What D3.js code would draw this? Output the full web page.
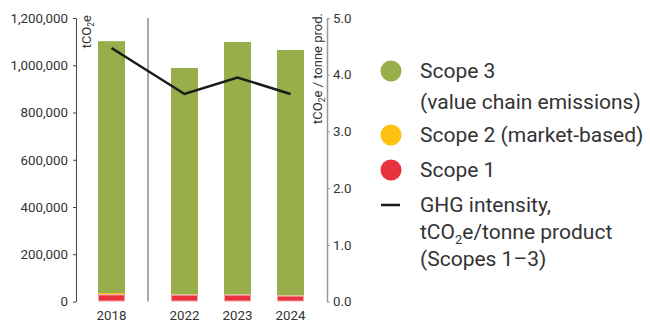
<!DOCTYPE html>
<html>
<head>
<meta charset="utf-8">
<script src="https://cdn.jsdelivr.net/npm/d3@7"></script>
<style>
  body { margin: 0; background: #fff; }
  svg { display: block; font-family: Roboto, "Noto Sans", sans-serif; }
</style>
</head>
<body>
<svg id="chart" width="650" height="321"></svg>
<script>
// ---- data ----
const years = ["2018", "2022", "2023", "2024"];
const scope1 = [30000, 29000, 29000, 25000];
const scope2 = [6000, 500, 500, 500];
const scope3 = [1066000, 959000, 1069000, 1039000];
const intensity = [4.47, 3.66, 3.95, 3.66];
const leftTicks = [0, 200000, 400000, 600000, 800000, 1000000, 1200000];
const rightTicks = [0, 1, 2, 3, 4, 5];
const legendItems = [
  { key: "s3", lines: ["Scope 3", "(value chain emissions)"] },
  { key: "s2", lines: ["Scope 2 (market-based)"] },
  { key: "s1", lines: ["Scope 1"] },
  { key: "line", lines: ["GHG intensity,", "tCO\u2082e/tonne product", "(Scopes 1\u20133)"] }
];

// ---- styles / layout ----
const colors = { s3: "#97ae4a", s2: "#fdc20f", s1: "#e8333f", line: "#1a1a1a" };
const svg = d3.select("#chart");
const plotTop = 18, plotBottom = 301.5;
const y = d3.scaleLinear().domain([0, 1200000]).range([plotBottom, plotTop]);
const y2 = d3.scaleLinear().domain([0, 5]).range([plotBottom, plotTop]);
const gapSlots = 20 / 53;
const slot = i => i + (i > 0 ? gapSlots : 0);
const x = d3.scaleLinear().domain([0, 3 + gapSlots]).range([111.5, 290.5]);
const barW = 27;
const tickFont = 13.3;

// left axis
const gL = svg.append("g").attr("transform", "translate(76,0)")
  .call(d3.axisLeft(y).tickValues(leftTicks).tickFormat(d3.format(",")).tickSize(3).tickSizeOuter(0).tickPadding(5));
gL.select(".domain").attr("stroke", "#444");
gL.selectAll(".tick line").attr("stroke", "#444");
gL.selectAll("text").attr("font-size", tickFont).attr("fill", "#333").attr("font-family", "Roboto");

// right axis
const gR = svg.append("g").attr("transform", "translate(327,0)")
  .call(d3.axisRight(y2).tickValues(rightTicks).tickFormat(d3.format(".1f")).tickSize(3).tickSizeOuter(0).tickPadding(3));
gR.select(".domain").attr("stroke", "#999").attr("stroke-width", 1.5);
gR.selectAll(".tick line").attr("stroke", "#999");
gR.selectAll("text").attr("font-size", tickFont).attr("fill", "#333").attr("font-family", "Roboto");

// separator
const sepX = (x(slot(0)) + x(slot(1))) / 2;
svg.append("line").attr("x1", sepX).attr("x2", sepX).attr("y1", plotTop).attr("y2", plotBottom)
  .attr("stroke", "#555").attr("stroke-width", 1);

// axis titles
const t1 = svg.append("text").attr("transform", `translate(91,${plotTop - 3}) rotate(-90)`)
  .attr("text-anchor", "end").attr("font-size", 13).attr("fill", "#333");
t1.append("tspan").text("tCO");
t1.append("tspan").text("2").attr("font-size", 8.5).attr("dy", 3);
t1.append("tspan").text("e").attr("dy", -3);

const t2 = svg.append("text").attr("transform", `translate(322,${plotTop - 5}) rotate(-90)`)
  .attr("text-anchor", "end").attr("font-size", 13).attr("fill", "#333");
t2.append("tspan").text("tCO");
t2.append("tspan").text("2").attr("font-size", 8.5).attr("dy", 3);
t2.append("tspan").text("e / tonne prod.").attr("dy", -3);

// bars
const bars = svg.append("g");
years.forEach((yr, i) => {
  const cx = x(slot(i));
  const a = scope1[i], b = a + scope2[i], c = b + scope3[i];
  bars.append("rect").attr("x", cx - barW / 2).attr("width", barW)
    .attr("y", y(c)).attr("height", y(b) - y(c)).attr("fill", colors.s3);
  bars.append("rect").attr("x", cx - barW / 2).attr("width", barW)
    .attr("y", y(b)).attr("height", y(a) - y(b)).attr("fill", colors.s2);
  bars.append("rect").attr("x", cx - barW / 2 + 0.5).attr("width", barW - 1)
    .attr("y", y(a) + 0.5).attr("height", y(0) - y(a) - 1).attr("fill", colors.s1)
    .attr("stroke", "#f4a3a8").attr("stroke-width", 1);
});

// year labels
svg.append("g").selectAll("text").data(years).join("text")
  .attr("x", (d, i) => x(slot(i))).attr("y", 319.5)
  .attr("text-anchor", "middle").attr("font-size", tickFont).attr("fill", "#333").text(d => d);

// intensity line
const line = d3.line().x((d, i) => x(slot(i))).y(d => y2(d));
svg.append("path").datum(intensity).attr("d", line)
  .attr("fill", "none").attr("stroke", colors.line).attr("stroke-width", 2.5);

// legend
const lg = svg.append("g");
const legendY = [71, 135, 170, 205];
const lineH = 27;
legendItems.forEach((it, k) => {
  const cy = legendY[k];
  if (it.key === "line") {
    lg.append("line").attr("x1", 381).attr("x2", 400).attr("y1", cy).attr("y2", cy)
      .attr("stroke", colors.line).attr("stroke-width", 2.5);
  } else {
    lg.append("circle").attr("cx", 391).attr("cy", cy).attr("r", 10.5).attr("fill", colors[it.key]);
  }
  it.lines.forEach((ln, j) => {
    const t = lg.append("text").attr("x", 420).attr("y", cy + j * (k === 0 ? 30.5 : lineH) + 7)
      .attr("font-size", 21).attr("fill", "#333");
    if (ln.indexOf("\u2082") >= 0) {
      const parts = ln.split("\u2082");
      t.append("tspan").text(parts[0]);
      t.append("tspan").text("2").attr("font-size", 13).attr("dy", 5);
      t.append("tspan").text(parts[1]).attr("dy", -5);
    } else {
      t.text(ln);
    }
  });
});
</script>
</body>
</html>
